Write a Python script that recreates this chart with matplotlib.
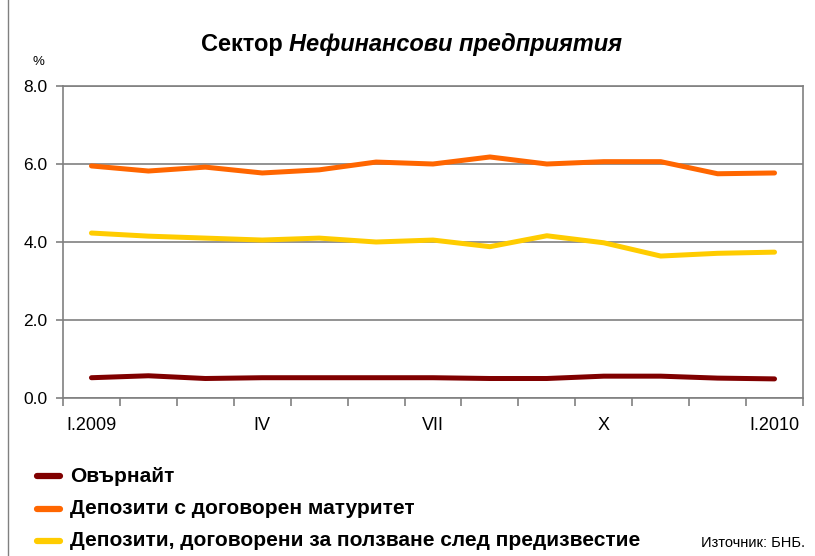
import matplotlib
matplotlib.use("Agg")
import matplotlib.pyplot as plt
import numpy as np
from matplotlib.lines import Line2D

categories = ["I.2009", "II", "III", "IV", "V", "VI", "VII", "VIII", "IX", "X", "XI", "XII", "I.2010"]
shown_labels = ["I.2009", "", "", "IV", "", "", "VII", "", "", "X", "", "", "I.2010"]
overnight = [0.52, 0.57, 0.50, 0.52, 0.52, 0.52, 0.52, 0.50, 0.50, 0.56, 0.56, 0.51, 0.49]
maturity = [5.95, 5.82, 5.92, 5.77, 5.85, 6.05, 6.00, 6.18, 6.00, 6.06, 6.06, 5.75, 5.77]
notice = [4.23, 4.15, 4.10, 4.05, 4.10, 4.00, 4.05, 3.88, 4.16, 3.98, 3.64, 3.71, 3.74]
series_names = ["Овърнайт", "Депозити с договорен матуритет",
                "Депозити, договорени за ползване след предизвестие"]
colors = ["#800000", "#FF6600", "#FFCC00"]

fig = plt.figure(figsize=(8.15, 5.56), dpi=100)
ax = fig.add_axes([63/815, 1-398/556, 740/815, 312/556])

x = np.arange(len(categories))
for vals, c in zip([overnight, maturity, notice], colors):
    ax.plot(x, vals, color=c, lw=3.6, solid_capstyle="round")

ax.set_xlim(-0.5, len(categories)-0.5)
ax.set_ylim(0, 8)
ax.set_yticks([0, 2, 4, 6, 8])
ax.set_yticklabels(["0.0", "2.0", "4.0", "6.0", "8.0"], fontsize=12.5, family="Liberation Sans")
ax.yaxis.grid(True, color="#808080", lw=1.2)
ax.set_axisbelow(True)
ax.set_xticks(x)
ax.set_xticklabels(shown_labels, fontsize=13, family="Liberation Sans")
ax.tick_params(axis="x", length=0, pad=14)
ax.set_xticks(np.arange(-0.5, len(categories)), minor=True)
ax.tick_params(axis="x", which="minor", length=6, color="#808080", width=1.2, direction="out")
ax.tick_params(axis="y", length=5, color="#808080", width=1.2, direction="out", pad=6)
for s in ax.spines.values():
    s.set_color("#808080")
    s.set_linewidth(1.2)

fig.text(289/815, 1-45/556, "Сектор ", ha="right", va="center", fontsize=17, fontweight="bold",
         family="Liberation Sans")
fig.text(289/815, 1-45/556, "Нефинансови предприятия", ha="left", va="center", fontsize=17,
         fontweight="bold", style="italic", family="Liberation Sans")
fig.text(38/815, 1-62/556, "%", ha="center", va="center", fontsize=9.5, family="Liberation Sans")

# left frame line
fig.add_artist(Line2D([8/815, 8/815], [0, 1], transform=fig.transFigure, color="#808080", lw=1))

ys = [476, 509, 541]
for name, c, yy in zip(series_names, colors, ys):
    fy = 1 - yy/556
    fig.add_artist(Line2D([37/815, 60/815], [fy, fy], transform=fig.transFigure, color=c, lw=4.5,
                          solid_capstyle="round"))
    fig.text(70/815, fy, name, ha="left", va="center", fontsize=15, fontweight="bold",
             family="Liberation Sans")

fig.text(805/815, 1-543/556, "Източник: БНБ.", ha="right", va="center", fontsize=10.5,
         family="Liberation Sans")

fig.savefig("out.png", dpi=100)
